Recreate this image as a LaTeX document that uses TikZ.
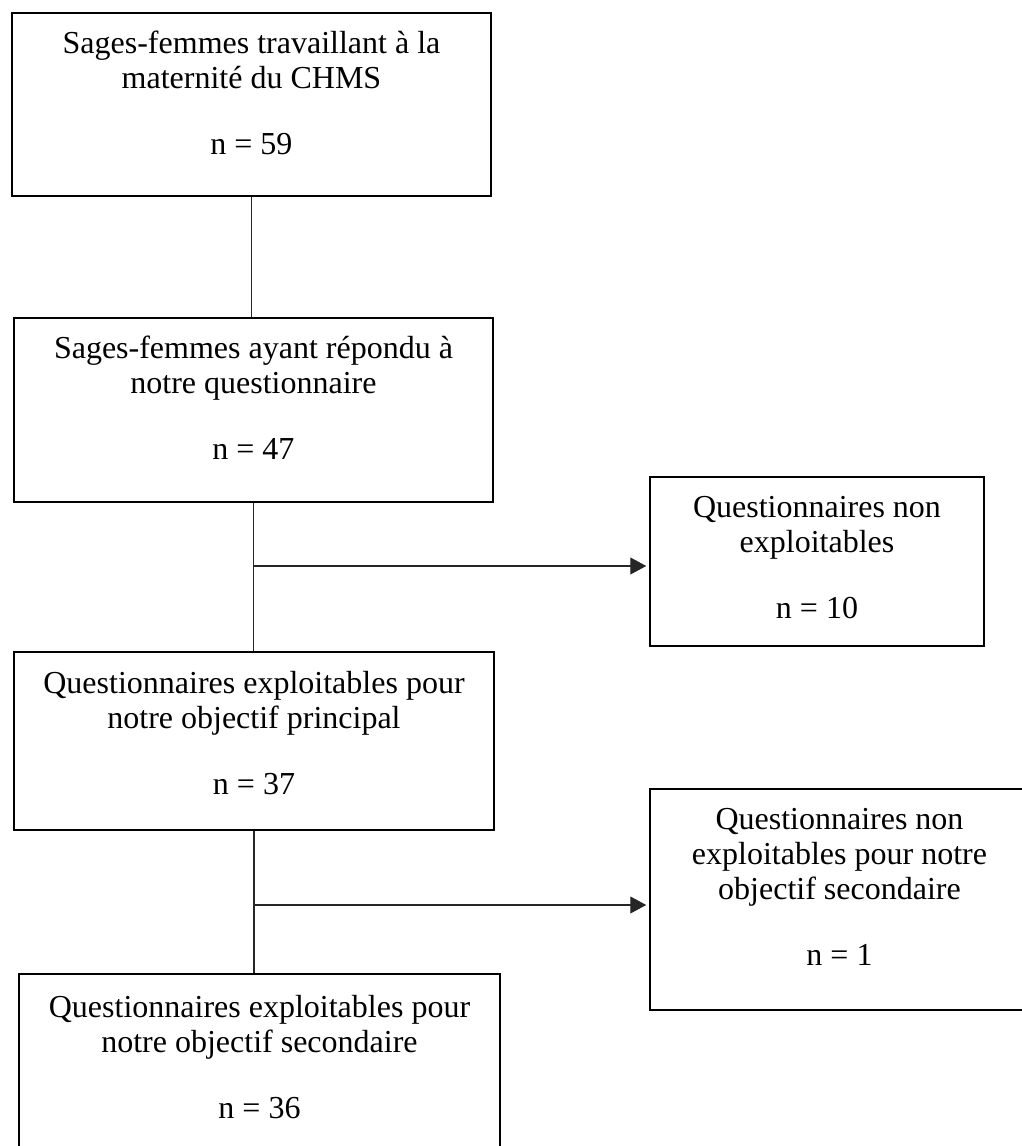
\documentclass[tikz,border=0pt]{standalone}
\usepackage{fontspec}
\setmainfont{Liberation Serif}
\usetikzlibrary{arrows.meta}
\begin{document}
\begin{tikzpicture}[x=1pt,y=-1pt,
  box/.style={draw, line width=1.5pt, rectangle, inner sep=0pt},
  txt/.style={anchor=north, align=center, inner sep=0pt, font=\fontsize{32}{35}\selectfont},
  link/.style={line width=1.1pt, draw=black!85},
  arr/.style={link, -{Triangle[length=16pt,width=17pt]}, shorten >=3pt}]
\useasboundingbox (0,0) rectangle (1022,1146);
% boxes
\node[box, minimum width=479pt, minimum height=183pt] (b1) at (251.5,104.5) {};
\node[box, minimum width=479pt, minimum height=184pt] (b2) at (253.5,410) {};
\node[box, minimum width=334pt, minimum height=169pt] (b3) at (817,561.5) {};
\node[box, minimum width=480pt, minimum height=178pt] (b4) at (254,741) {};
\node[box, minimum width=379pt, minimum height=221pt] (b5) at (839.5,899.5) {};
\node[box, minimum width=481pt, minimum height=182pt] (b6) at (259.5,1065) {};
% texts
\node[txt] (t1) at (251.5,28) {\rule{0pt}{25pt}Sages-femmes travaillant à la\\maternité du CHMS\\[31pt]n = 59};
\node[txt] (t2) at (253.5,333) {\rule{0pt}{25pt}Sages-femmes ayant répondu à\\notre questionnaire\\[31pt]n = 47};
\node[txt] (t3) at (817,492) {\rule{0pt}{25pt}Questionnaires non\\exploitables\\[31pt]n = 10};
\node[txt] (t4) at (254,668) {\rule{0pt}{25pt}Questionnaires exploitables pour\\notre objectif principal\\[31pt]n = 37};
\node[txt] (t5) at (839.5,804) {\rule{0pt}{25pt}Questionnaires non\\exploitables pour notre\\objectif secondaire\\[31pt]n = 1};
\node[txt] (t6) at (259.5,992) {\rule{0pt}{25pt}Questionnaires exploitables pour\\notre objectif secondaire\\[31pt]n = 36};
% connectors
\draw[link] (b1.south) -- (b1.south |- b2.north);
\draw[link] (b2.south) -- (b2.south |- b4.north);
\coordinate (j1) at (254,566);
\draw[arr] (j1) -- (j1 -| b3.west);
\draw[link] (b4.south) -- (b4.south |- b6.north);
\coordinate (j2) at (254,905);
\draw[arr] (j2) -- (j2 -| b5.west);
\end{tikzpicture}
\end{document}
